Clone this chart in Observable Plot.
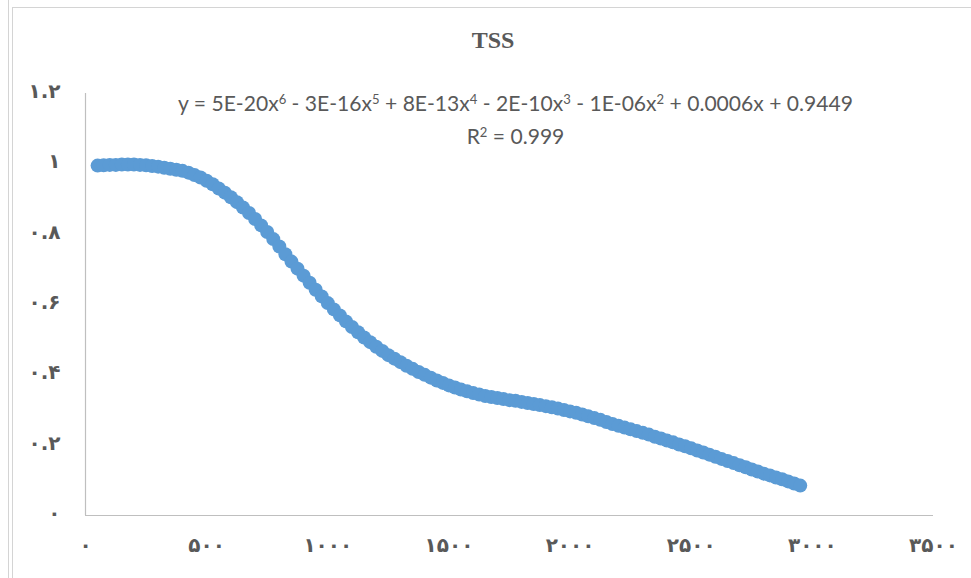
<!DOCTYPE html>
<html>
<head>
<meta charset="utf-8">
<script src="https://cdn.jsdelivr.net/npm/d3@7"></script>
<script src="https://cdn.jsdelivr.net/npm/@observablehq/plot@0.6"></script>
<style>
  body { margin: 0; background: #fff; }
  #wrap { position: relative; width: 971px; height: 578px; overflow: hidden; background: #fff; }
  #wrap svg { position: absolute; left: 0; top: 0; }
  #wrap svg g[aria-label="x-axis tick label"] text { letter-spacing: 1.5px; }
  .edge { position: absolute; background: #d4d4d4; }
  #title { position: absolute; left: 0; width: 986px; top: 27px; text-align: center;
           font-family: "Liberation Serif", serif; font-weight: bold; font-size: 24px; color: #595959; }
  #eq { position: absolute; left: 0; width: 1031px; top: 88px; text-align: center;
        font-family: Lato, sans-serif; color: #595959; line-height: 30px; white-space: nowrap; }
  #eq sup { font-size: 62%; vertical-align: 0; position: relative; top: -0.55em; }
</style>
</head>
<body>
<div id="wrap">
  <div class="edge" style="left:8px;top:0;width:1px;height:578px"></div>
  <div class="edge" style="left:12px;top:7px;width:1px;height:571px"></div>
  <div class="edge" style="left:12px;top:7px;width:959px;height:1px"></div>
  <div id="title">TSS</div>
  <div id="eq"><span id="eqline">y = 5E-20x<sup>6</sup> - 3E-16x<sup>5</sup> + 8E-13x<sup>4</sup> - 2E-10x<sup>3</sup> - 1E-06x<sup>2</sup> + 0.0006x + 0.9449</span><br>R<sup>2</sup> = 0.999</div>
</div>
<script>
// TSS measurements against x
const xValues = [
  50, 75, 100, 125, 150, 175, 200, 225, 250, 275,
  300, 325, 350, 375, 400, 425, 450, 475, 500, 525,
  550, 575, 600, 625, 650, 675, 700, 725, 750, 775,
  800, 825, 850, 875, 900, 925, 950, 975, 1000, 1025,
  1050, 1075, 1100, 1125, 1150, 1175, 1200, 1225, 1250, 1275,
  1300, 1325, 1350, 1375, 1400, 1425, 1450, 1475, 1500, 1525,
  1550, 1575, 1600, 1625, 1650, 1675, 1700, 1725, 1750, 1775,
  1800, 1825, 1850, 1875, 1900, 1925, 1950, 1975, 2000, 2025,
  2050, 2075, 2100, 2125, 2150, 2175, 2200, 2225, 2250, 2275,
  2300, 2325, 2350, 2375, 2400, 2425, 2450, 2475, 2500, 2525,
  2550, 2575, 2600, 2625, 2650, 2675, 2700, 2725, 2750, 2775,
  2800, 2825, 2850, 2875, 2900, 2925, 2950
];
const tssValues = [
  0.995, 0.996, 0.997, 0.997, 0.998, 0.998, 0.998, 0.997, 0.996, 0.994,
  0.992, 0.989, 0.986, 0.983, 0.980, 0.975, 0.968, 0.961, 0.952, 0.942,
  0.930, 0.918, 0.905, 0.891, 0.876, 0.860, 0.843, 0.825, 0.806, 0.786,
  0.765, 0.743, 0.722, 0.702, 0.682, 0.662, 0.642, 0.623, 0.604, 0.586,
  0.569, 0.552, 0.536, 0.521, 0.506, 0.493, 0.480, 0.468, 0.456, 0.446,
  0.436, 0.426, 0.417, 0.408, 0.400, 0.392, 0.384, 0.377, 0.370, 0.364,
  0.358, 0.353, 0.348, 0.344, 0.340, 0.337, 0.334, 0.331, 0.328, 0.326,
  0.323, 0.320, 0.317, 0.314, 0.311, 0.308, 0.304, 0.300, 0.296, 0.292,
  0.287, 0.282, 0.277, 0.272, 0.266, 0.260, 0.255, 0.250, 0.245, 0.240,
  0.235, 0.230, 0.224, 0.219, 0.213, 0.208, 0.202, 0.197, 0.191, 0.185,
  0.179, 0.173, 0.167, 0.161, 0.155, 0.149, 0.143, 0.137, 0.131, 0.125,
  0.119, 0.114, 0.108, 0.103, 0.097, 0.091, 0.085
];
const xTicks = [0, 500, 1000, 1500, 2000, 2500, 3000, 3500];
const yTicks = [0, 0.2, 0.4, 0.6, 0.8, 1, 1.2];

// Persian (Extended Arabic-Indic) digits for tick labels
const persianDigits = "۰۱۲۳۴۵۶۷۸۹";
const toPersian = d => String(d).replace(/\d/g, c => persianDigits[+c]);

const points = xValues.map((x, i) => ({x, y: tssValues[i]}));

const chart = Plot.plot({
  width: 971,
  height: 578,
  marginLeft: 85,
  marginRight: 38,
  marginTop: 93,
  marginBottom: 63,
  style: {background: "transparent", color: "#595959", fontFamily: "DejaVu Sans, sans-serif", fontSize: "20px"},
  x: {domain: [0, 3500]},
  y: {domain: [0, 1.2]},
  marks: [
    Plot.axisY(yTicks, {tickSize: 0, tickPadding: 25, tickFormat: toPersian, label: null, fontSize: 20, fontWeight: "bold", dy: -2}),
    Plot.axisX(xTicks, {tickSize: 0, tickPadding: 22, tickFormat: toPersian, label: null, fontSize: 20, fontWeight: "bold"}),
    Plot.ruleX([0], {stroke: "#bfbfbf", strokeWidth: 1.2}),
    Plot.ruleY([0], {stroke: "#bfbfbf", strokeWidth: 1.2}),
    Plot.dot(points, {x: "x", y: "y", r: 7, fill: "#5b9bd5"})
  ]
});
document.getElementById("wrap").insertBefore(chart, document.getElementById("title"));

// Fit the trendline equation to its width
const eq = document.getElementById("eq");
const line = document.getElementById("eqline");
eq.style.fontSize = "18px";
const w = line.getBoundingClientRect().width;
eq.style.fontSize = (18 * 675 / w).toFixed(2) + "px";
</script>
</body>
</html>
